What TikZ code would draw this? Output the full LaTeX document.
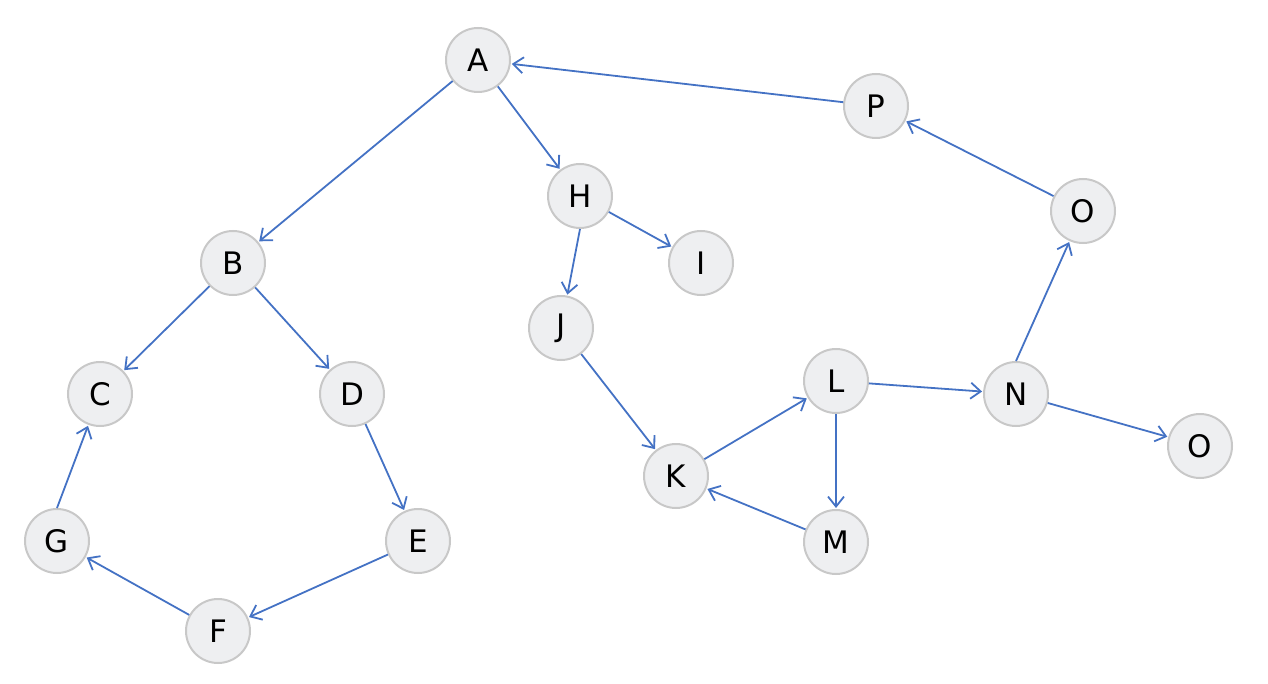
\documentclass[tikz,border=0pt]{standalone}
\usepackage{fontspec}
\setmainfont{DejaVu Sans}
\usetikzlibrary{arrows.meta}
\definecolor{edgeblue}{HTML}{4472C4}
\definecolor{vfill}{HTML}{EEEFF1}
\definecolor{vline}{HTML}{C8C8C8}
\begin{document}
\begin{tikzpicture}[
  x=0.5pt, y=-0.5pt,
  vertex/.style={circle, draw=vline, line width=1pt, fill=vfill,
                 minimum size=32pt, inner sep=0pt,
                 font=\fontsize{15.5}{18}\selectfont},
  link/.style={draw=edgeblue, line width=0.9pt,
               -{Straight Barb[length=5pt,width=8pt]}, shorten >=0.5pt}
]
\useasboundingbox (0,0) rectangle (1268,684);

\node[vertex] (A) at (478,60) {A};
\node[vertex] (P) at (876,106) {P};
\node[vertex] (H) at (580,196) {H};
\node[vertex] (I) at (701,263) {I};
\node[vertex] (B) at (233,263) {B};
\node[vertex] (J) at (561,328) {J};
\node[vertex] (C) at (100,394) {C};
\node[vertex] (D) at (352,394) {D};
\node[vertex] (L) at (836,381) {L};
\node[vertex] (N) at (1016,394) {N};
\node[vertex] (O1) at (1083,211) {O};
\node[vertex] (O2) at (1200,446) {O};
\node[vertex] (K) at (676,476) {K};
\node[vertex] (M) at (836,542) {M};
\node[vertex] (G) at (57,541) {G};
\node[vertex] (E) at (418,541) {E};
\node[vertex] (F) at (218,631) {F};

\draw[link] (A) -- (B);
\draw[link] (A) -- (H);
\draw[link] (P) -- (A);
\draw[link] (O1) -- (P);
\draw[link] (N.north) -- (O1);
\draw[link] (N) -- (O2);
\draw[link] (H) -- (I);
\draw[link] (H.south) -- (J);
\draw[link] (B) -- (C);
\draw[link] (B) -- (D);
\draw[link] (D) -- (E);
\draw[link] (E) -- (F);
\draw[link] (F) -- (G);
\draw[link] (G.north) -- (C);
\draw[link] (J) -- (K);
\draw[link] (K) -- (L);
\draw[link] (L) -- (N);
\draw[link] (L) -- (M);
\draw[link] (M) -- (K);

\end{tikzpicture}
\end{document}
